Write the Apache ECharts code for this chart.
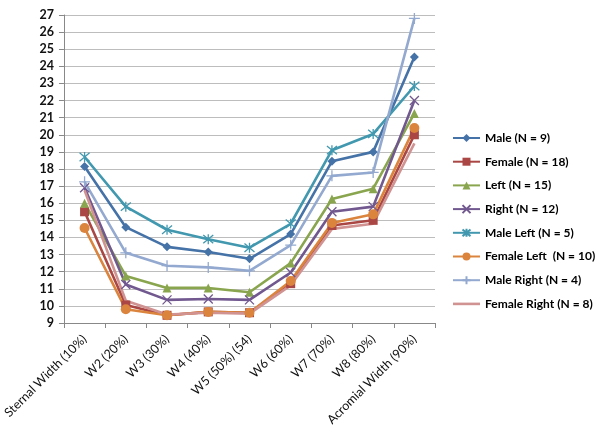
<!DOCTYPE html>
<html>
<head>
<meta charset="utf-8">
<script src="https://cdn.jsdelivr.net/npm/echarts@6/dist/echarts.min.js"></script>
<style>html,body{margin:0;padding:0;background:#fff}#c{width:600px;height:442px}</style>
</head>
<body>
<div id="c"></div>
<script>
const categories = ['Sternal Width (10%)','W2 (20%)','W3 (30%)','W4 (40%)','W5 (50%) (54)','W6 (60%)','W7 (70%)','W8 (80%)','Acromial Width (90%)'];
const seriesNames = ['Male (N = 9)','Female (N = 18)','Left (N = 15)','Right (N = 12)','Male Left (N = 5)','Female Left  (N = 10)','Male Right (N = 4)','Female Right (N = 8)'];
const male        = [18.15, 14.6, 13.45, 13.15, 12.75, 14.2, 18.45, 19.0, 24.55];
const female      = [15.5, 10.05, 9.45, 9.65, 9.6, 11.3, 14.7, 15.0, 20.0];
const left        = [16.0, 11.75, 11.05, 11.05, 10.8, 12.5, 16.25, 16.85, 21.25];
const right       = [16.9, 11.25, 10.35, 10.4, 10.35, 11.95, 15.5, 15.8, 22.0];
const maleLeft    = [18.7, 15.8, 14.45, 13.9, 13.4, 14.8, 19.1, 20.05, 22.85];
const femaleLeft  = [14.55, 9.8, 9.45, 9.65, 9.6, 11.45, 14.85, 15.35, 20.4];
const maleRight   = [17.25, 13.1, 12.35, 12.25, 12.05, 13.55, 17.6, 17.8, 26.8];
const femaleRight = [16.75, 10.3, 9.5, 9.6, 9.55, 11.2, 14.5, 14.8, 19.5];
const yTicks = {min: 9, max: 27, interval: 1};

const colors = ['#4572A7','#AA4643','#89A54E','#71588F','#4198AF','#DB843D','#93A9CF','#D19392'];
const symX = 'path://M0,0L10,10M10,0L0,10';
const symStar = 'path://M0,0L10,10M10,0L0,10M5,-1L5,11';
const symPlus = 'path://M5,0L5,10M0,5L10,5';
const symbols = ['diamond','rect','triangle',symX,symStar,'circle',symPlus,'none'];
const sizes = [9,9,9,9,10,10,11,0];
const data = [male,female,left,right,maleLeft,femaleLeft,maleRight,femaleRight];
const lineSym = [false,false,false,true,true,false,true,false];

const FONT = 'Lato';
const legendData = seriesNames.map((n, i) => symbols[i] === 'none' ? {name: n, icon: 'path://M0,4L27,4L27,6.6L0,6.6Z'} : {name: n});
const chart = echarts.init(document.getElementById('c'), null, {renderer:'canvas'});
chart.setOption({
  animation: false,
  backgroundColor: '#fff',
  color: colors,
  grid: {left: 63, right: 165, top: 15, bottom: 119, containLabel: false},
  legend: {
    orient: 'vertical', left: 452, top: 132, padding: 0, itemWidth: 27, itemHeight: 10, itemGap: 11.7,
    textStyle: {fontFamily: FONT, fontWeight: 'bold', fontSize: 12, color: '#000'},
    data: legendData
  },
  xAxis: {
    type: 'category', data: categories, boundaryGap: true,
    axisLine: {lineStyle: {color: '#888', width: 1}},
    axisTick: {show: true, length: 5, lineStyle: {color: '#888'}},
    axisLabel: {rotate: 45, margin: 14, interval: 0, fontFamily: FONT, fontSize: 12.5, color: '#111'}
  },
  yAxis: {
    type: 'value', min: yTicks.min, max: yTicks.max, interval: yTicks.interval,
    axisLine: {show: true, lineStyle: {color: '#888', width: 1}},
    axisTick: {show: true, length: 5, lineStyle: {color: '#888'}},
    splitLine: {lineStyle: {color: '#bdbdbd', width: 1}},
    axisLabel: {margin: 10, fontFamily: FONT, fontWeight: 'bold', fontSize: 12.5, color: '#111'}
  },
  series: data.map((d, i) => ({
    name: seriesNames[i], type: 'line', data: d,
    symbol: symbols[i], symbolSize: sizes[i], showSymbol: symbols[i] !== 'none',
    lineStyle: {width: 2.6, color: colors[i]},
    itemStyle: lineSym[i] ? {color: colors[i], borderColor: colors[i], borderWidth: 1.3} : {color: colors[i], borderColor: colors[i], borderWidth: 0},
    emphasis: {disabled: true}
  }))
});
</script>
</body>
</html>
